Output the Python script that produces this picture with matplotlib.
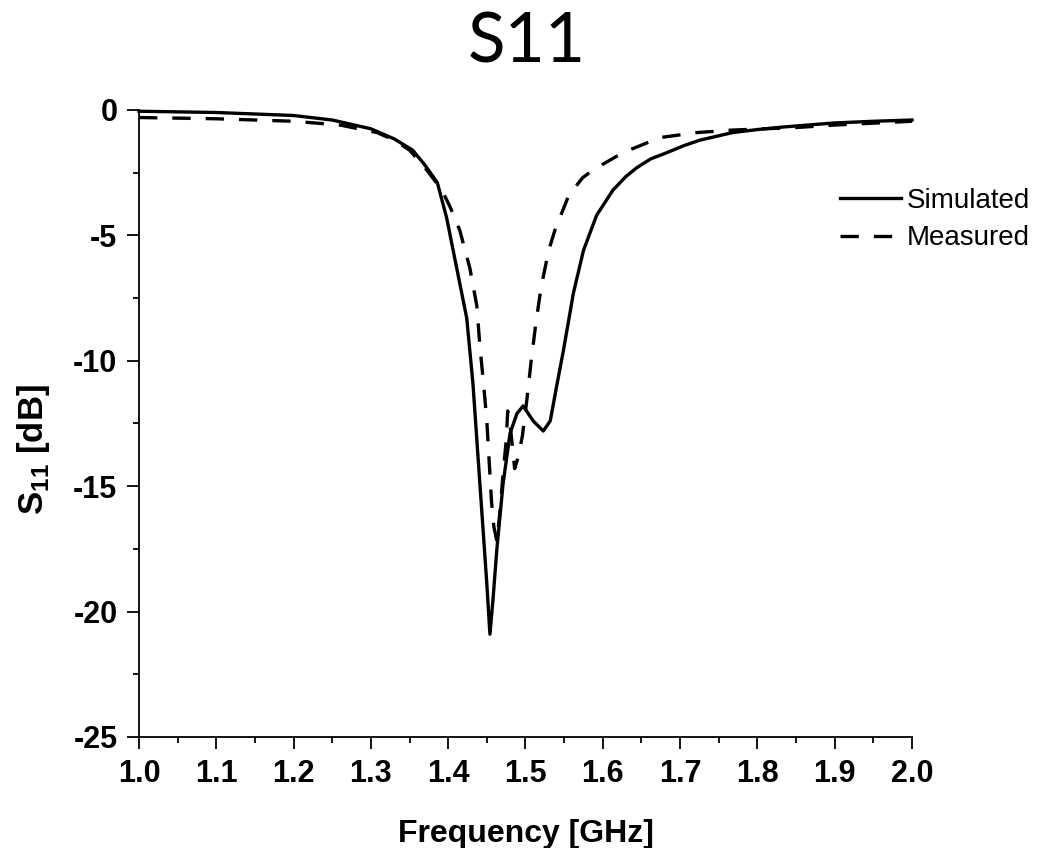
import numpy as np
import matplotlib
matplotlib.use('Agg')
import matplotlib.pyplot as plt
from matplotlib.ticker import MultipleLocator

freq_sim = [1.0, 1.1, 1.2, 1.25, 1.3, 1.33, 1.354, 1.37, 1.386, 1.398, 1.411, 1.424, 1.432,
            1.441, 1.450, 1.454, 1.458, 1.463, 1.471, 1.480, 1.489, 1.497, 1.510, 1.523,
            1.532, 1.541, 1.549, 1.562, 1.575, 1.592, 1.613, 1.630, 1.644, 1.662, 1.683,
            1.705, 1.726, 1.768, 1.80, 1.833, 1.898, 1.95, 2.0]
s11_sim = [-0.05, -0.1, -0.22, -0.4, -0.75, -1.15, -1.6, -2.2, -2.9, -4.3, -6.3, -8.3, -10.9,
           -14.9, -18.9, -20.9, -19.5, -17.5, -14.9, -12.9, -12.1, -11.8, -12.4, -12.8,
           -12.4, -10.9, -9.6, -7.3, -5.6, -4.2, -3.2, -2.65, -2.3, -1.95, -1.7,
           -1.42, -1.2, -0.9, -0.78, -0.68, -0.52, -0.45, -0.4]

freq_meas = [1.0, 1.1, 1.2, 1.26, 1.308, 1.33, 1.35, 1.37, 1.392, 1.403, 1.415, 1.428, 1.437,
             1.441, 1.446, 1.450, 1.453, 1.456, 1.459, 1.463, 1.467, 1.471, 1.475, 1.477,
             1.481, 1.486, 1.490, 1.496, 1.502, 1.507, 1.513, 1.520, 1.530, 1.538, 1.547,
             1.556, 1.574, 1.587, 1.626, 1.674, 1.722, 1.768, 1.85, 1.9, 2.0]
s11_meas = [-0.3, -0.35, -0.45, -0.6, -0.9, -1.2, -1.6, -2.3, -3.2, -3.9, -4.8, -6.3, -7.8,
            -9.4, -11.0, -12.4, -14.0, -15.6, -16.6, -17.2, -16.0, -14.5, -13.2, -12.0,
            -12.8, -14.3, -13.9, -13.0, -11.5, -10.1, -8.6, -7.1, -5.6, -4.8, -4.1,
            -3.4, -2.7, -2.4, -1.7, -1.1, -0.9, -0.8, -0.7, -0.6, -0.45]

plt.rcParams['font.family'] = 'Liberation Sans'
plt.rcParams['axes.unicode_minus'] = False
plt.rcParams['mathtext.fontset'] = 'custom'
plt.rcParams['mathtext.rm'] = 'Liberation Sans:bold'
plt.rcParams['mathtext.bf'] = 'Liberation Sans:bold'

fig = plt.figure(figsize=(10.38, 8.48), dpi=100)
ax = fig.add_axes([0.1339, 0.1309, 0.7447, 0.7394])

ax.plot(freq_sim, s11_sim, color='black', lw=2.4, label='Simulated', clip_on=False)
ax.plot(freq_meas, s11_meas, color='black', lw=2.4, ls=(0, (5.5, 4.5)), label='Measured', clip_on=False)

ax.set_xlim(1.0, 2.0)
ax.set_ylim(-25, 0)
ax.xaxis.set_major_locator(MultipleLocator(0.1))
ax.xaxis.set_minor_locator(MultipleLocator(0.05))
ax.yaxis.set_major_locator(MultipleLocator(5))
ax.yaxis.set_minor_locator(MultipleLocator(2.5))
ax.xaxis.set_major_formatter(plt.FormatStrFormatter('%.1f'))

for s in ['top', 'right']:
    ax.spines[s].set_visible(False)
for s in ['left', 'bottom']:
    ax.spines[s].set_linewidth(1.3)

ax.tick_params(which='major', direction='out', length=8.5, width=1.3, labelsize=22, pad=7)
ax.tick_params(which='minor', direction='out', length=4.5, width=1.3)
for lab in ax.get_xticklabels() + ax.get_yticklabels():
    lab.set_fontweight('bold')

ax.set_xlabel('Frequency [GHz]', fontsize=23, fontweight='bold', labelpad=22)
ax.set_ylabel(r'S$_{11}$ [dB]', fontsize=25, fontweight='bold')
ax.yaxis.set_label_coords(-0.113, 0.458)

fig.text(0.508, 0.926, 'S11', fontsize=50, family='Lato', ha='center', va='baseline')

leg = ax.legend(loc='upper left', bbox_to_anchor=(0.892, 0.893), frameon=False, fontsize=20,
                handlelength=2.2, handletextpad=0.2, labelspacing=0.4, borderaxespad=0)

fig.savefig('out.png', dpi=100)
